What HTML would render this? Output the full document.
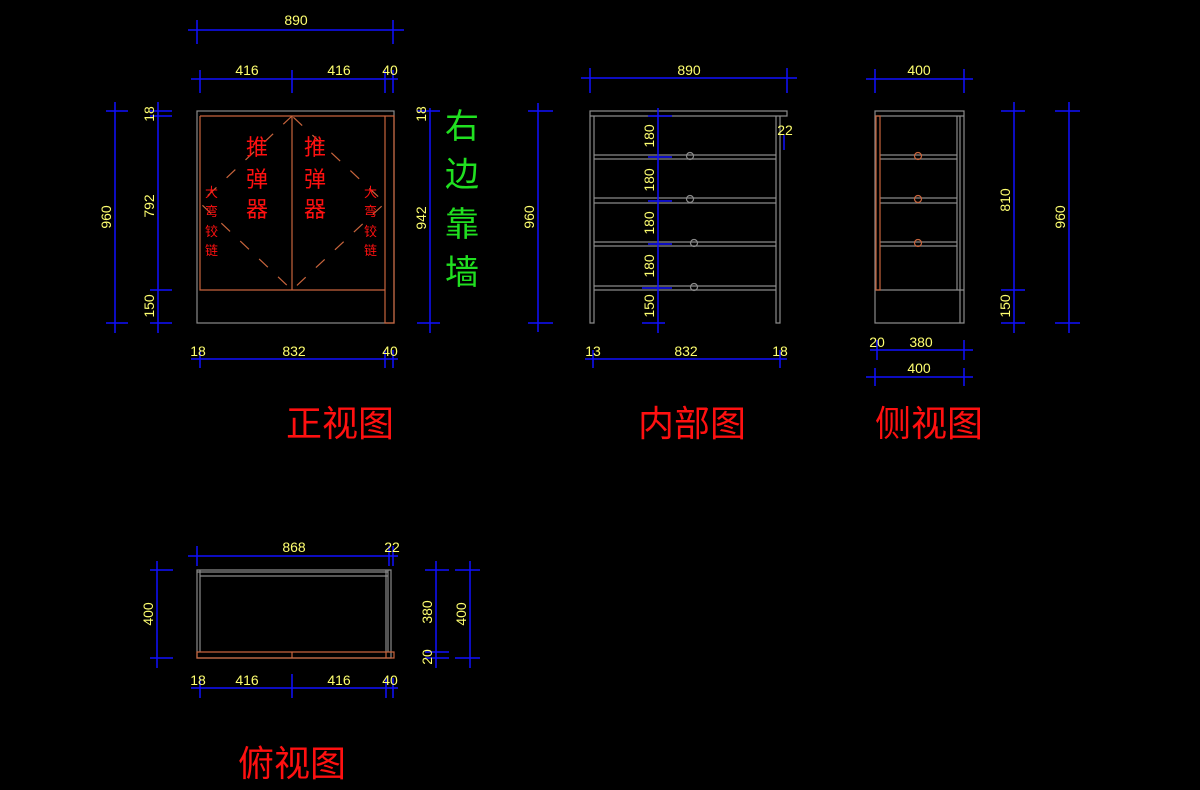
<!DOCTYPE html>
<html><head><meta charset="utf-8"><style>
html,body{margin:0;padding:0;background:#000;width:1200px;height:790px;overflow:hidden}
svg{display:block}
.d{stroke:#1010ff;stroke-width:1.5;fill:none}
.g{stroke:#8a8a8a;stroke-width:1.2;fill:none}
.b{stroke:#c8643c;stroke-width:1.2;fill:none}
.y{fill:#ffff70;font-family:"Liberation Sans",sans-serif;font-size:14px}
.r{fill:#ff1010;font-family:"Liberation Sans","Noto Sans CJK SC",sans-serif}
</style></head><body>
<svg width="1200" height="790" xmlns="http://www.w3.org/2000/svg">
<!-- FRONT VIEW -->
<rect class="g" x="197" y="111" width="197" height="212"/>
<path class="b" d="M200 116H394V323H385V116M200 116V290H385M292 116V290"/>
<g class="b" stroke-dasharray="12,14">
<path d="M292 116L200 203L292 290L385 203Z"/>
</g>
<text class="r" font-size="22" x="246" y="155">推</text><text class="r" font-size="22" x="246" y="187">弹</text><text class="r" font-size="22" x="246" y="217">器</text>
<text class="r" font-size="22" x="304" y="155">推</text><text class="r" font-size="22" x="304" y="187">弹</text><text class="r" font-size="22" x="304" y="217">器</text>
<g class="r" font-size="13"><text x="205" y="197">大</text><text x="205" y="216">弯</text><text x="205" y="236">铰</text><text x="205" y="255">链</text>
<text x="364" y="197">大</text><text x="364" y="216">弯</text><text x="364" y="236">铰</text><text x="364" y="255">链</text></g>
<g font-family="Liberation Sans,'Noto Sans CJK SC',sans-serif" font-size="34" fill="#20e020"><text x="445" y="138">右</text><text x="445" y="186">边</text><text x="445" y="236">靠</text><text x="445" y="284">墙</text></g>
<g class="d">
<path d="M188 30H404M197 20V44M393 20V44"/>
<path d="M191 79H398M200 70V93M292 70V93M385 70V93M393 70V93"/>
<path d="M115 102V333M106 111H128M106 323H128"/>
<path d="M158 102V333M150 111H172M150 116H172M150 290H172M150 323H172"/>
<path d="M430 108V333M417 111H440M417 323H440"/>
<path d="M191 359H398M200 350V368M385 350V368M393 350V368"/>
</g>
<g class="y" text-anchor="middle">
<text x="296" y="25">890</text><text x="247" y="75">416</text><text x="339" y="75">416</text><text x="390" y="75">40</text>
<text x="198" y="356">18</text><text x="294" y="356">832</text><text x="390" y="356">40</text>
<text transform="translate(111,217) rotate(-90)">960</text>
<text transform="translate(154,206) rotate(-90)">792</text>
<text transform="translate(154,114) rotate(-90)">18</text>
<text transform="translate(154,306) rotate(-90)">150</text>
<text transform="translate(426,218) rotate(-90)">942</text>
<text transform="translate(426,114) rotate(-90)">18</text>
</g>
<text class="r" font-size="36" x="286" y="436">正视图</text>
<!-- INTERNAL -->
<path class="g" d="M590 111H787V116H590ZM590 116V323H594V116M776 116V323H780V116"/>
<g class="g">
<path d="M594 155H776M594 159H776M594 198H776M594 203H776M594 242H776M594 246H776M594 286H776M594 290H776"/>
<circle cx="690" cy="156" r="3.5"/><circle cx="690" cy="199" r="3.5"/><circle cx="694" cy="243" r="3.5"/><circle cx="694" cy="287" r="3.5"/>
</g>
<g class="d">
<path d="M581 78H797M590 68V93M787 68V93"/>
<path d="M538 103V332M528 111H553M528 323H553"/>
<path d="M658 108V333M648 116H672M648 157H672M648 201H672M648 244H672M642 288H672M642 323H665"/>
<path d="M585 359H787M593 350V368M780 350V368M784 135V150"/>
</g>
<g class="y" text-anchor="middle">
<text x="689" y="75">890</text><text x="785" y="135">22</text>
<text x="593" y="356">13</text><text x="686" y="356">832</text><text x="780" y="356">18</text>
<text transform="translate(654,136) rotate(-90)">180</text>
<text transform="translate(654,180) rotate(-90)">180</text>
<text transform="translate(654,223) rotate(-90)">180</text>
<text transform="translate(654,266) rotate(-90)">180</text>
<text transform="translate(654,306) rotate(-90)">150</text>
<text transform="translate(534,217) rotate(-90)">960</text>
</g>
<text class="r" font-size="36" x="638" y="436">内部图</text>
<!-- SIDE -->
<path class="g" d="M875 111H964V323H875ZM875 116H964M957 116V290M960 116V323M875 290H964"/>
<path class="g" d="M880 155H957M880 159H957M880 198H957M880 203H957M880 242H957M880 246H957"/>
<rect class="b" x="876" y="116" width="4" height="174"/>
<g class="b"><circle cx="918" cy="156" r="3.5"/><circle cx="918" cy="199" r="3.5"/><circle cx="918" cy="243" r="3.5"/></g>
<g class="d">
<path d="M866 79H973M875 69V93M964 69V93"/>
<path d="M1014 102V333M1001 111H1025M1001 290H1025M1001 323H1025"/>
<path d="M1069 102V333M1055 111H1080M1055 323H1080"/>
<path d="M870 350H973M877 340V360M964 340V360"/>
<path d="M866 377H973M875 368V386M964 368V386"/>
</g>
<g class="y" text-anchor="middle">
<text x="919" y="75">400</text><text x="877" y="347">20</text><text x="921" y="347">380</text><text x="919" y="373">400</text>
<text transform="translate(1010,200) rotate(-90)">810</text>
<text transform="translate(1010,306) rotate(-90)">150</text>
<text transform="translate(1065,217) rotate(-90)">960</text>
</g>
<text class="r" font-size="36" x="875" y="436">侧视图</text>
<!-- TOP -->
<path class="g" d="M197 570H391V658H197ZM197 572H388M200 576H388M200 570V652M386 570V652M388 570V652"/>
<path class="b" d="M197 652H394V658H197ZM292 652V658M386 652V658"/>
<g class="d">
<path d="M188 556H398M197 546V566M389 546V566M393 546V566"/>
<path d="M157 561V668M150 570H173M150 658H173"/>
<path d="M436 561V668M425 570H449M425 658H449M425 652H449"/>
<path d="M470 561V668M455 570H480M455 658H480"/>
<path d="M191 688H398M200 678V698M292 674V698M386 678V698M393 678V698"/>
</g>
<g class="y" text-anchor="middle">
<text x="294" y="552">868</text><text x="392" y="552">22</text>
<text x="198" y="685">18</text><text x="247" y="685">416</text><text x="339" y="685">416</text><text x="390" y="685">40</text>
<text transform="translate(153,614) rotate(-90)">400</text>
<text transform="translate(432,612) rotate(-90)">380</text>
<text transform="translate(432,657) rotate(-90)">20</text>
<text transform="translate(466,614) rotate(-90)">400</text>
</g>
<text class="r" font-size="36" x="238" y="776">俯视图</text>
</svg>
</body></html>
